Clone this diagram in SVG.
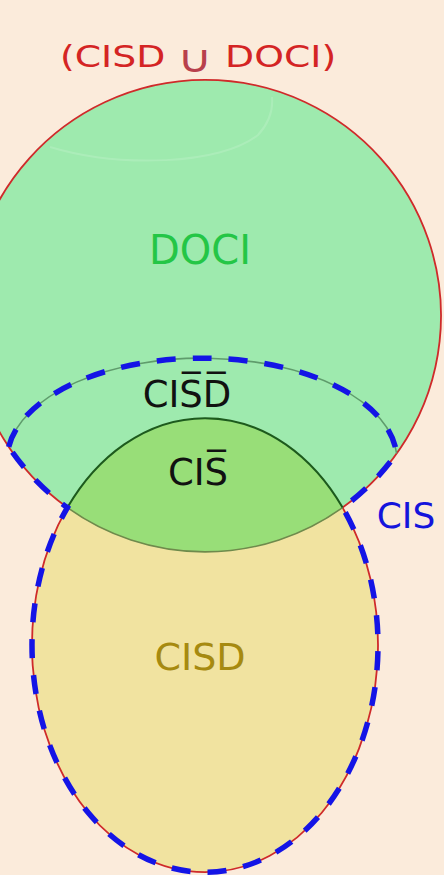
<svg xmlns="http://www.w3.org/2000/svg" width="444" height="875" viewBox="0 0 444 875">
<style>
.lbl{font-family:"DejaVu Sans","Liberation Sans",sans-serif;text-anchor:middle}
.red{fill:none;stroke:#cf2a2a;stroke-width:1.8}
.blue{fill:none;stroke:#1414e6;stroke-width:5.5;stroke-dasharray:19 17}
</style>
<defs>
<clipPath id="clipDoci"><circle cx="205" cy="316" r="236"/></clipPath>
</defs>
<rect x="0" y="0" width="444" height="875" fill="#fbebdb"/>
<g id="title">
<text class="lbl" style="text-anchor:start" transform="translate(60,67) scale(1.26,1)" font-size="30" fill="#d42424"><tspan x="0">(CISD</tspan> <tspan x="93" y="5" font-size="38" fill="#b8404c">∪</tspan> <tspan x="131" y="0">DOCI)</tspan></text>
</g>
<g id="DOCI">
<circle cx="205" cy="316" r="236" fill="#9eeaae"/>
<path d="M50,147 C120,168 220,165 258,135 C270,122 273,108 272,97" fill="none" stroke="#ffffff" stroke-opacity="0.14" stroke-width="2"/>
</g>
<g id="CISD">
<ellipse cx="205" cy="645" rx="173" ry="227" fill="#f1e3a0"/>
</g>
<g id="CISbar">
<ellipse cx="205" cy="645" rx="173" ry="227" fill="#98de78" clip-path="url(#clipDoci)"/>
</g>
<g id="connectors">
<path class="red" d="M342.6,507.6 A236,236 0 1 0 67.4,507.6"/>
<path class="red" d="M342.6,507.6 A173,227 0 1 1 67.4,507.6"/>
<path d="M67.4,507.6 A236,236 0 0 0 342.6,507.6" fill="none" stroke="#6f8a4c" stroke-width="1.6"/>
<path d="M67.4,507.6 A173,227 0 0 1 342.6,507.6" fill="none" stroke="#1d5a1d" stroke-width="2"/>
<path d="M8.7,446.8 A195,102 0 0 1 396.6,453.5" fill="none" stroke="#5f9c6c" stroke-width="1.6"/>
<path class="blue" d="M8.7,446.8 A195,102 0 0 1 396.6,453.5 A236,236 0 0 1 342.6,507.6 A173,227 0 1 1 67.4,507.6 A236,236 0 0 1 8.7,446.8 Z"/>
</g>
<g id="labels">
<text class="lbl" x="200" y="264" font-size="40" fill="#24c646">DOCI</text>
<text class="lbl" x="187" y="407" font-size="37" fill="#111111">CIS̅D̅</text>
<text class="lbl" x="198" y="485" font-size="37" fill="#111111">CIS̅</text>
<text class="lbl" x="406" y="528" font-size="36" fill="#1414dc">CIS</text>
<text class="lbl" x="200" y="670" font-size="38" fill="#a68a10">CISD</text>
</g>
</svg>
